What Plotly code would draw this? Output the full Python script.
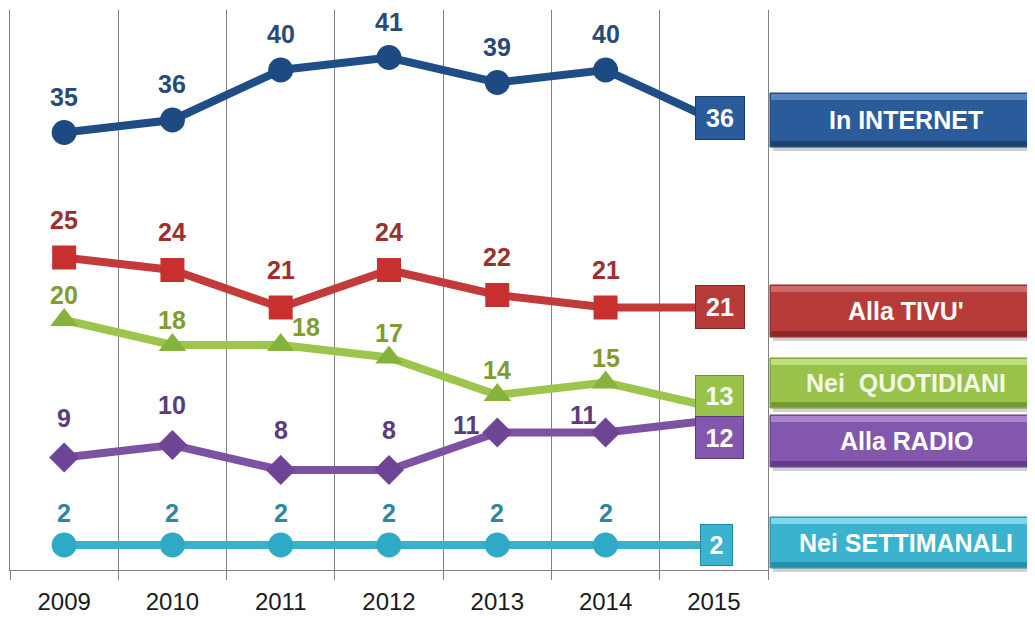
import plotly.graph_objects as go

years = ["2009", "2010", "2011", "2012", "2013", "2014", "2015"]

internet = [35, 36, 40, 41, 39, 40, 36]
tivu = [25, 24, 21, 24, 22, 21, 21]
quotidiani = [20, 18, 18, 17, 14, 15, 13]
radio = [9, 10, 8, 8, 11, 11, 12]
settimanali = [2, 2, 2, 2, 2, 2, 2]

series_names = ["In INTERNET", "Alla TIVU'", "Nei  QUOTIDIANI", "Alla RADIO", "Nei SETTIMANALI"]
series_values = [internet, tivu, quotidiani, radio, settimanali]

# page body has an 8px margin: figure is offset by (8, 8)
OFF = 8
W, H = 1035 - OFF, 618 - OFF
L, R, T, B = 10 - OFF, 267, 10 - OFF, 48
PW, PH = W - L - R, H - T - B

FONT = "Arial, Liberation Sans, sans-serif"
line_colors = ["#1f4d86", "#c23b3a", "#9cc54b", "#7d52a3", "#38b2cc"]
marker_colors = ["#1d4a82", "#c8302e", "#86b33a", "#6e4596", "#2faac6"]
label_colors = ["#284a78", "#9e2f2c", "#7f9c2c", "#5a3c7c", "#2b889d"]
symbols = ["circle", "square", "triangle-up", "diamond", "circle"]
msizes = [25, 24, 24, 23, 25]
box_fill = ["#2a5c9c", "#b63b39", "#98c24a", "#8457ae", "#3bb2ce"]
box_border = ["#1b3f6e", "#862624", "#6e9430", "#5c3a80", "#238aa3"]
box_light = ["#5a86bf", "#d06a68", "#bde07a", "#a985cc", "#7fd8ee"]
box_dark = ["#1d4272", "#8e2725", "#739b2f", "#613c88", "#2690aa"]

# label offsets (px) per series, with a few exceptions
label_dy = [36, 38, 25, 40, 32]
label_exc = {(2, 2): (25, 18), (3, 4): (-31, 8), (3, 5): (-22, 18)}

# end box geometry (px): width, height, xshift, yshift
end_box = [(48, 42, 6, 2), (48, 42, 6, 1), (47, 40, 6, 12), (47, 41, 6, -17), (31, 40, 3, 0)]

# legend boxes (top, bottom px in page coords)
legend_pos = [(93, 147), (285, 337), (358, 408), (415, 467), (517, 568)]

fig = go.Figure()

for i, (name, vals) in enumerate(zip(series_names, series_values)):
    sizes = [msizes[i]] * (len(vals) - 1) + [0]
    fig.add_trace(go.Scatter(
        x=years, y=vals, mode="lines+markers", name=name,
        line=dict(color=line_colors[i], width=8),
        marker=dict(symbol=symbols[i], size=sizes, color=marker_colors[i],
                    opacity=1, line=dict(width=0)),
        showlegend=False, hoverinfo="x+y+name",
    ))

annotations = []
for i, vals in enumerate(series_values):
    for j, v in enumerate(vals[:-1]):
        dx, dy = label_exc.get((i, j), (0, label_dy[i]))
        annotations.append(dict(
            x=j, y=v, xref="x", yref="y", text="<b>%d</b>" % v,
            showarrow=False, xshift=dx, yshift=dy,
            font=dict(family=FONT, size=25, color=label_colors[i]),
        ))
    bw, bh, bx, by = end_box[i]
    last = len(vals) - 1
    annotations.append(dict(
        x=last, y=vals[last], xref="x", yref="y", text="<b>%d</b>" % vals[last],
        showarrow=False, xshift=bx, yshift=by, width=bw, height=bh,
        bgcolor=box_fill[i], bordercolor=box_border[i], borderwidth=1, borderpad=0,
        font=dict(family=FONT, size=25, color="white"),
    ))


def px(x):
    return (x - OFF - L) / PW


def py(y):
    return (H - B - (y - OFF)) / PH


shapes = []
for i, name in enumerate(series_names):
    top, bot = legend_pos[i]
    x0, x1 = 770, 1045
    shapes.append(dict(type="rect", xref="paper", yref="paper",
                       x0=px(x0 + 3), x1=px(x1), y0=py(bot + 4), y1=py(top + 4),
                       fillcolor="rgba(0,0,0,0.18)", line=dict(width=0), layer="above"))
    shapes.append(dict(type="rect", xref="paper", yref="paper",
                       x0=px(x0), x1=px(x1), y0=py(bot), y1=py(top),
                       fillcolor=box_fill[i], line=dict(color=box_border[i], width=1), layer="above"))
    shapes.append(dict(type="rect", xref="paper", yref="paper",
                       x0=px(x0 + 1), x1=px(x1), y0=py(top + 7), y1=py(top + 1),
                       fillcolor=box_light[i], line=dict(width=0), layer="above"))
    shapes.append(dict(type="rect", xref="paper", yref="paper",
                       x0=px(x0 + 1), x1=px(x1), y0=py(bot - 1), y1=py(bot - 6),
                       fillcolor=box_dark[i], line=dict(width=0), layer="above"))
    annotations.append(dict(
        xref="paper", yref="paper", x=px(906), y=py((top + bot) / 2),
        text="<b>%s</b>" % name.replace("  ", "&nbsp; "), showarrow=False,
        xanchor="center", yanchor="middle",
        font=dict(family=FONT, size=25, color="#f4f8e4" if i == 2 else "white"),
    ))

fig.update_layout(
    width=W, height=H,
    margin=dict(l=L, r=R, t=T, b=B, pad=0),
    paper_bgcolor="white", plot_bgcolor="white",
    xaxis=dict(
        type="category", range=[-0.5, 6.5], tickson="boundaries",
        showgrid=True, gridcolor="#828282", gridwidth=1,
        showline=True, linecolor="#828282", linewidth=1,
        ticks="outside", ticklen=9, tickcolor="#828282",
        ticklabelstandoff=10,
        tickfont=dict(family=FONT, size=24, color="#1a1a1a"),
        zeroline=False, fixedrange=True,
    ),
    yaxis=dict(
        range=[0, 44.8], showgrid=False, zeroline=False,
        showticklabels=False, showline=True, mirror=True,
        linecolor="#828282", linewidth=1, fixedrange=True,
    ),
    annotations=annotations,
    shapes=shapes,
)

fig.write_html("out.html")
